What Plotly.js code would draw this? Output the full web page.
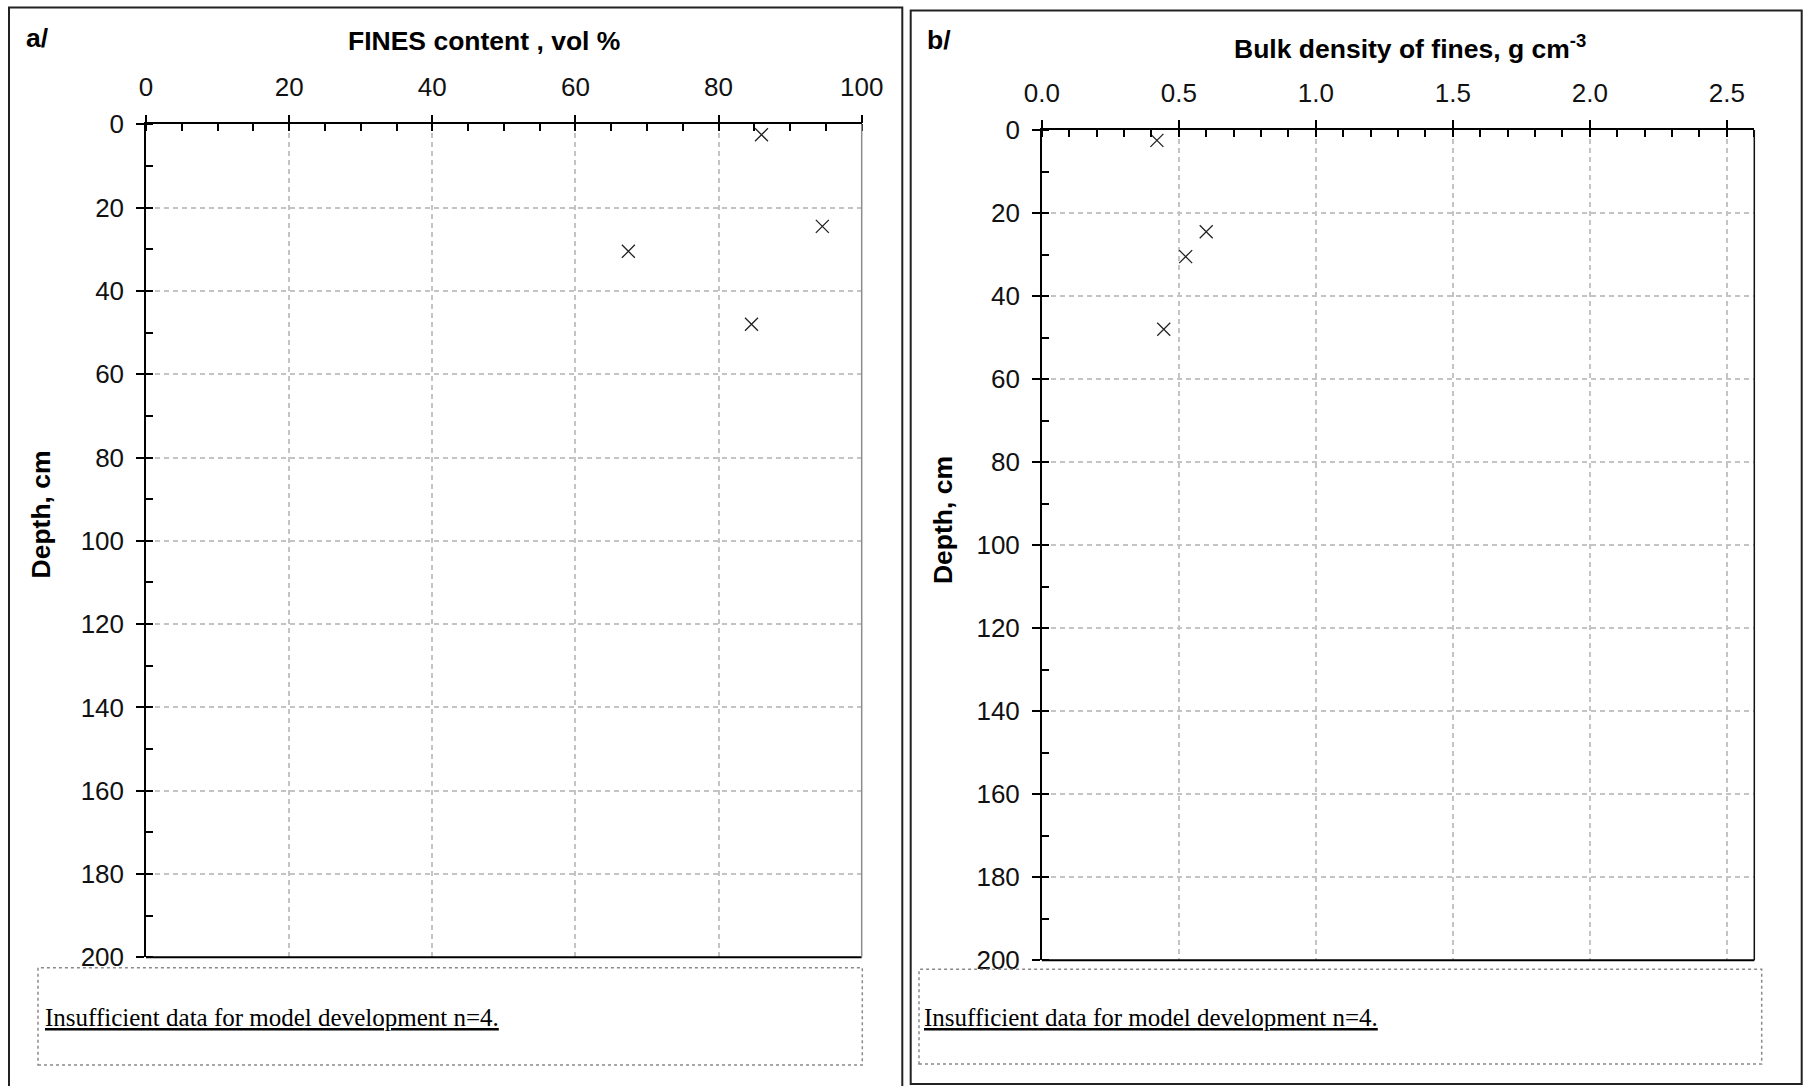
<!DOCTYPE html>
<html>
<head>
<meta charset="utf-8">
<script src="https://cdn.plot.ly/plotly-3.0.1.min.js"></script>
<style>
  html, body { margin: 0; padding: 0; background: #ffffff; }
  #chart { width: 1809px; height: 1086px; }
</style>
</head>
<body>
<div id="chart"></div>
<script>
// Sample depths (cm) and the two measured properties of the fine fraction
const depthCm = [2.5, 24.5, 30.5, 48];
const finesVolPct = [86, 94.5, 67.4, 84.6];
const bulkDensityFines = [0.42, 0.60, 0.525, 0.445];

// Axis ticks
const depthTicks = [0, 20, 40, 60, 80, 100, 120, 140, 160, 180, 200];
const finesTicks = [0, 20, 40, 60, 80, 100];
const densityTicks = [0, 0.5, 1.0, 1.5, 2.0, 2.5];
const densityTickText = ['0.0', '0.5', '1.0', '1.5', '2.0', '2.5'];

const W = 1809, H = 1086;
const px = v => v / W;           // horizontal pixel -> paper fraction
const py = v => 1 - v / H;       // vertical pixel (from top) -> paper fraction

const SANS = 'Liberation Sans, Arial, sans-serif';
const SERIF = 'Liberation Serif, Times New Roman, serif';
const tickFont = { family: SANS, size: 26, color: '#111' };

function mainX(domain, range, tickvals, ticktext, minorStep) {
  return {
    domain: domain, range: range, side: 'top',
    tickmode: 'array', tickvals: tickvals, ticktext: ticktext,
    ticks: 'outside', ticklen: 8, tickwidth: 1.5, tickcolor: '#000',
    ticklabelstandoff: 8,
    showline: true, linecolor: '#000', linewidth: 1.5,
    showgrid: true, gridcolor: '#c4c4c4', gridwidth: 1.5, griddash: '5px,4px',
    zeroline: false, tickfont: tickFont, fixedrange: true,
    minor: { dtick: minorStep, tick0: 0, ticks: 'inside', ticklen: 7, tickwidth: 1.5, tickcolor: '#000', showgrid: false }
  };
}
function mainY(domain, tickvals) {
  return {
    domain: domain, range: [200, 0],
    tickmode: 'array', tickvals: tickvals,
    ticks: 'outside', ticklen: 8, tickwidth: 1.5, tickcolor: '#000',
    ticklabelstandoff: 7,
    showline: true, linecolor: '#000', linewidth: 1.5,
    showgrid: true, gridcolor: '#c4c4c4', gridwidth: 1.5, griddash: '5px,4px',
    zeroline: false, tickfont: tickFont, fixedrange: true,
    minor: { dtick: 10, tick0: 0, ticks: 'inside', ticklen: 7, tickwidth: 1.5, tickcolor: '#000', showgrid: false }
  };
}
// Overlay axes give the major ticks their inner half, so they cross the axis line
function innerX(over, anchor, range, tickvals) {
  return {
    overlaying: over, anchor: anchor, side: 'top', range: range,
    tickmode: 'array', tickvals: tickvals, showticklabels: false,
    ticks: 'inside', ticklen: 7, tickwidth: 1.5, tickcolor: '#000',
    showline: false, showgrid: false, zeroline: false, fixedrange: true
  };
}
function innerY(over, anchor, tickvals) {
  return {
    overlaying: over, anchor: anchor, side: 'left', range: [200, 0],
    tickmode: 'array', tickvals: tickvals, showticklabels: false,
    ticks: 'inside', ticklen: 7, tickwidth: 1.5, tickcolor: '#000',
    showline: false, showgrid: false, zeroline: false, fixedrange: true
  };
}

const markerStyle = { symbol: 'x-thin', size: 13, color: '#222', line: { color: '#222', width: 1.3 } };

const traces = [
  { type: 'scatter', mode: 'markers', x: finesVolPct, y: depthCm, xaxis: 'x', yaxis: 'y',
    marker: markerStyle, hoverinfo: 'x+y', showlegend: false },
  { type: 'scatter', mode: 'markers', x: bulkDensityFines, y: depthCm, xaxis: 'x2', yaxis: 'y2',
    marker: markerStyle, hoverinfo: 'x+y', showlegend: false },
  { type: 'scatter', mode: 'markers', x: [], y: [], xaxis: 'x3', yaxis: 'y3', showlegend: false, hoverinfo: 'skip' },
  { type: 'scatter', mode: 'markers', x: [], y: [], xaxis: 'x4', yaxis: 'y4', showlegend: false, hoverinfo: 'skip' }
];

const domA = { x: [px(146), px(861.7)], y: [py(957.3), py(124.3)] };
const domB = { x: [px(1041.8), px(1754.3)], y: [py(960.3), py(130)] };

const layout = {
  width: W, height: H, autosize: false,
  margin: { l: 0, r: 0, t: 0, b: 0, pad: 0 },
  paper_bgcolor: '#ffffff', plot_bgcolor: 'rgba(0,0,0,0)',
  showlegend: false, hovermode: 'closest',
  font: { family: SANS, color: '#000' },

  xaxis: Object.assign(mainX(domA.x, [0, 100], finesTicks, finesTicks.map(String), 5), { anchor: 'y' }),
  yaxis: Object.assign(mainY(domA.y, depthTicks), { anchor: 'x' }),
  xaxis2: Object.assign(mainX(domB.x, [0, 2.6], densityTicks, densityTickText, 0.1), { anchor: 'y2' }),
  yaxis2: Object.assign(mainY(domB.y, depthTicks), { anchor: 'x2' }),
  xaxis3: innerX('x', 'y3', [0, 100], finesTicks),
  yaxis3: innerY('y', 'x3', depthTicks),
  xaxis4: innerX('x2', 'y4', [0, 2.6], densityTicks),
  yaxis4: innerY('y2', 'x4', depthTicks),

  shapes: [
    // plot frames: bottom and right edges
    { type: 'line', xref: 'x domain', yref: 'y domain', x0: 0, x1: 1, y0: 0, y1: 0, line: { color: '#000', width: 2 } },
    { type: 'line', xref: 'x domain', yref: 'y domain', x0: 1, x1: 1, y0: 0, y1: 1, line: { color: '#8c8c8c', width: 1.5 } },
    { type: 'line', xref: 'x2 domain', yref: 'y2 domain', x0: 0, x1: 1, y0: 0, y1: 0, line: { color: '#000', width: 2 } },
    { type: 'line', xref: 'x2 domain', yref: 'y2 domain', x0: 1, x1: 1, y0: 0, y1: 1, line: { color: '#111', width: 1.5 } },
    // note boxes
    { type: 'rect', xref: 'paper', yref: 'paper', x0: px(38), x1: px(862.3), y0: py(1065), y1: py(967.7),
      line: { color: '#8a8a8a', width: 1.5, dash: 'dot' } },
    { type: 'rect', xref: 'paper', yref: 'paper', x0: px(919), x1: px(1761.7), y0: py(1064), y1: py(969.3),
      line: { color: '#8a8a8a', width: 1.5, dash: 'dot' } },
    // panel borders
    { type: 'rect', xref: 'paper', yref: 'paper', x0: px(9), x1: px(902.3), y0: py(1095), y1: py(7.5),
      line: { color: '#222', width: 2 } },
    { type: 'rect', xref: 'paper', yref: 'paper', x0: px(910.7), x1: px(1801.7), y0: py(1084), y1: py(10.5),
      line: { color: '#222', width: 2 } }
  ],

  annotations: [
    { text: '<b>a/</b>', xref: 'paper', yref: 'paper', x: px(24), y: py(38), xanchor: 'left', yanchor: 'middle',
      showarrow: false, font: { family: SANS, size: 26.5, color: '#000' } },
    { text: '<b>FINES content , vol %</b>', xref: 'paper', yref: 'paper', x: px(484), y: py(41), xanchor: 'center', yanchor: 'middle',
      showarrow: false, font: { family: SANS, size: 26.5, color: '#000' } },
    { text: '<b>Depth, cm</b>', xref: 'paper', yref: 'paper', x: px(40), y: py(514.5), xanchor: 'center', yanchor: 'middle',
      textangle: -90, showarrow: false, font: { family: SANS, size: 26.5, color: '#000' } },
    { text: '<u>Insufficient data for model development n=4.</u>', xref: 'paper', yref: 'paper', x: px(43), y: py(1017), xanchor: 'left', yanchor: 'middle',
      showarrow: false, font: { family: SERIF, size: 25, color: '#000' } },

    { text: '<b>b/</b>', xref: 'paper', yref: 'paper', x: px(925), y: py(40), xanchor: 'left', yanchor: 'middle',
      showarrow: false, font: { family: SANS, size: 26.5, color: '#000' } },
    { text: '<b>Bulk density of fines, g cm<sup>-3</sup></b>', xref: 'paper', yref: 'paper', x: px(1410), y: py(47), xanchor: 'center', yanchor: 'middle',
      showarrow: false, font: { family: SANS, size: 26.5, color: '#000' } },
    { text: '<b>Depth, cm</b>', xref: 'paper', yref: 'paper', x: px(942.6), y: py(520.5), xanchor: 'center', yanchor: 'middle',
      textangle: -90, showarrow: false, font: { family: SANS, size: 26.5, color: '#000' } },
    { text: '<u>Insufficient data for model development n=4.</u>', xref: 'paper', yref: 'paper', x: px(922), y: py(1017), xanchor: 'left', yanchor: 'middle',
      showarrow: false, font: { family: SERIF, size: 25, color: '#000' } }
  ]
};

Plotly.newPlot('chart', traces, layout, { staticPlot: false, displayModeBar: false, responsive: false });
</script>
</body>
</html>
